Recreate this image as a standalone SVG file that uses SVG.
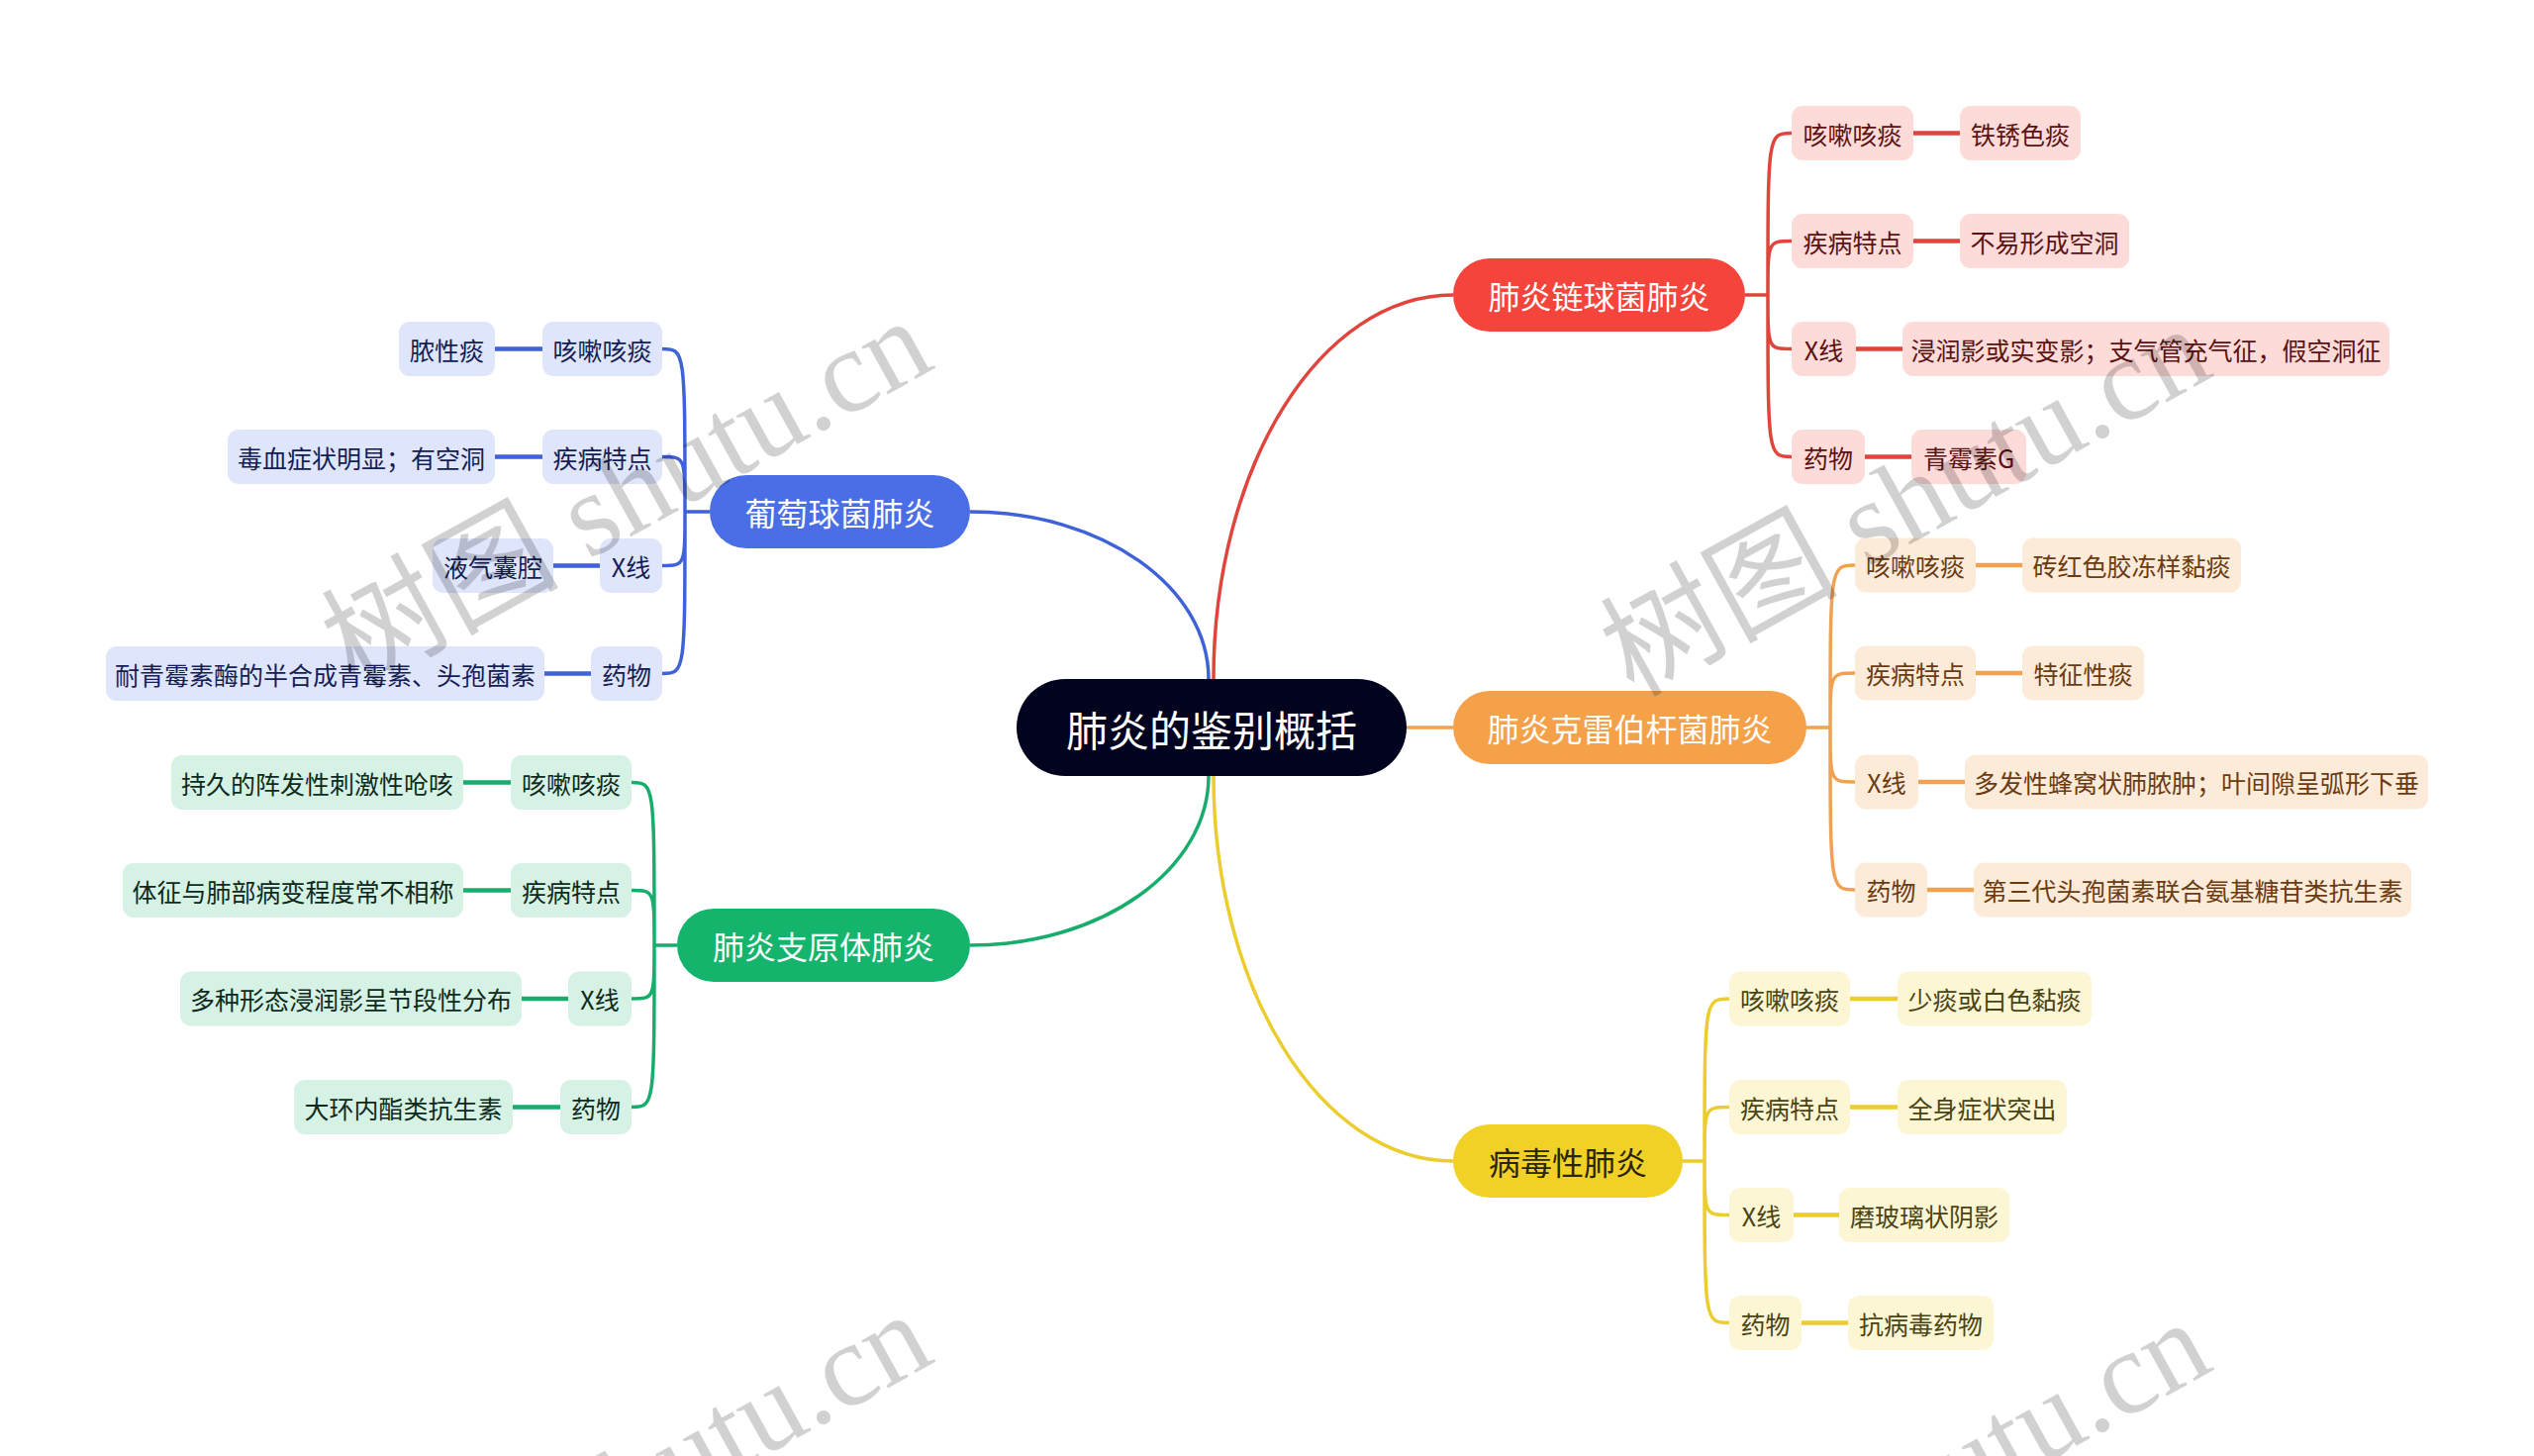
<svg xmlns="http://www.w3.org/2000/svg" width="2560" height="1471" viewBox="0 0 2560 1471">
<style>
text{font-family:"Noto Sans CJK SC","Noto Sans",sans-serif;text-anchor:middle;dominant-baseline:central}
.c text{font-size:25px}
.m text{font-size:32px;fill:#fff}
.root text{font-size:42px;fill:#fff}
.root rect{fill:#02041f}
.cr rect{fill:#fddbd9}.cr text{fill:#5b1212}
.co rect{fill:#fdebd9}.co text{fill:#6b3b12}
.cy rect{fill:#fdf6d5}.cy text{fill:#4a4413}
.cb rect{fill:#dfe5fb}.cb text{fill:#141d55}
.cg rect{fill:#d5f2e4}.cg text{fill:#0e2a1c}
.ln path{fill:none;stroke-width:3.5}
.ln path.g{stroke-width:4.5}
.sr{stroke:#e0453d}.so{stroke:#f0a252}.sy{stroke:#ebcd2f}.sb{stroke:#3f62d8}.sg{stroke:#17ad6c}
.wm text{font-family:"Liberation Serif","Noto Sans CJK SC",serif;font-size:120px;fill:#000;fill-opacity:.18;text-anchor:start;dominant-baseline:auto}
</style>
<g id="connectors" class="ln">
<path class="sr" d="M1226,686 C1226,471 1334,298 1468,298"/>
<path class="sy" d="M1226,784 C1226,999 1334,1173 1468,1173"/>
<path class="so" d="M1421,735 H1468"/>
<path class="sb" d="M1221,686 C1221,593 1114,517 980,517"/>
<path class="sg" d="M1221,784 C1221,878 1114,955 980,955"/>
<path class="sr" d="M1763,298 H1786 M1786,298 C1786,134.5 1786,134.5 1810,134.5 M1786,298 C1786,243.5 1786,243.5 1810,243.5 M1786,298 C1786,352.5 1786,352.5 1810,352.5 M1786,298 C1786,461.5 1786,461.5 1810,461.5"/>
<path class="sr g" d="M1933,134.5 H1980 M1933,243.5 H1980 M1875,352.5 H1922 M1884,461.5 H1931"/>
<path class="so" d="M1825,735 H1849 M1849,735 C1849,571 1849,571 1874,571 M1849,735 C1849,680 1849,680 1874,680 M1849,735 C1849,790 1849,790 1874,790 M1849,735 C1849,899 1849,899 1874,899"/>
<path class="so g" d="M1996,571 H2043 M1996,680 H2043 M1938,790 H1985 M1947,899 H1994"/>
<path class="sy" d="M1700,1173 H1722 M1722,1173 C1722,1009 1722,1009 1747,1009 M1722,1173 C1722,1118.5 1722,1118.5 1747,1118.5 M1722,1173 C1722,1227.5 1722,1227.5 1747,1227.5 M1722,1173 C1722,1336.5 1722,1336.5 1747,1336.5"/>
<path class="sy g" d="M1869,1009 H1917 M1869,1118.5 H1917 M1812,1227.5 H1858 M1820,1336.5 H1867"/>
<path class="sb" d="M717,517 H692 M692,517 C692,352.5 692,352.5 669,352.5 M692,517 C692,461.5 692,461.5 669,461.5 M692,517 C692,571.5 692,571.5 669,571.5 M692,517 C692,680.5 692,680.5 669,680.5"/>
<path class="sb g" d="M548,352.5 H500 M548,461.5 H500 M606,571.5 H559 M597,680.5 H550"/>
<path class="sg" d="M684,955 H661 M661,955 C661,790.5 661,790.5 638,790.5 M661,955 C661,899.5 661,899.5 638,899.5 M661,955 C661,1009 661,1009 638,1009 M661,955 C661,1118.5 661,1118.5 638,1118.5"/>
<path class="sg g" d="M516,790.5 H468 M516,899.5 H468 M574,1009 H527 M566,1118.5 H518"/>
</g>
<g id="root" class="root"><rect x="1027" y="686" width="394" height="98" rx="49"/><text x="1224" y="735">肺炎的鉴别概括</text></g>
<g id="n-red" class="m"><rect x="1468" y="261" width="295" height="74" rx="37" fill="#f5443c"/><text x="1615.5" y="298">肺炎链球菌肺炎</text></g>
<g id="n-orange" class="m"><rect x="1468" y="698" width="357" height="74" rx="37" fill="#f5a14a"/><text x="1646.5" y="735">肺炎克雷伯杆菌肺炎</text></g>
<g id="n-yellow" class="m"><rect x="1468" y="1136" width="232" height="74" rx="37" fill="#f2d126"/><text x="1584" y="1173" style="fill:#2a2508">病毒性肺炎</text></g>
<g id="n-blue" class="m"><rect x="717" y="480" width="263" height="74" rx="37" fill="#4a6ee6"/><text x="848.5" y="517">葡萄球菌肺炎</text></g>
<g id="n-green" class="m"><rect x="684" y="918" width="296" height="74" rx="37" fill="#14b46c"/><text x="832" y="955">肺炎支原体肺炎</text></g>

<g id="r1" class="c cr"><rect x="1810" y="107" width="123" height="55" rx="11"/><text x="1871.5" y="134.5">咳嗽咳痰</text></g>
<g id="r1a" class="c cr"><rect x="1980" y="107" width="122" height="55" rx="11"/><text x="2041" y="134.5">铁锈色痰</text></g>
<g id="r2" class="c cr"><rect x="1810" y="216" width="123" height="55" rx="11"/><text x="1871.5" y="243.5">疾病特点</text></g>
<g id="r2a" class="c cr"><rect x="1980" y="216" width="171" height="55" rx="11"/><text x="2065.5" y="243.5">不易形成空洞</text></g>
<g id="r3" class="c cr"><rect x="1810" y="325" width="65" height="55" rx="11"/><text x="1842.5" y="352.5">X线</text></g>
<g id="r3a" class="c cr"><rect x="1922" y="325" width="492" height="55" rx="11"/><text x="2168" y="352.5">浸润影或实变影；支气管充气征，假空洞征</text></g>
<g id="r4" class="c cr"><rect x="1810" y="434" width="74" height="55" rx="11"/><text x="1847" y="461.5">药物</text></g>
<g id="r4a" class="c cr"><rect x="1931" y="434" width="116" height="55" rx="11"/><text x="1989" y="461.5">青霉素G</text></g>

<g id="o1" class="c co"><rect x="1874" y="543.5" width="122" height="55" rx="11"/><text x="1935" y="571">咳嗽咳痰</text></g>
<g id="o1a" class="c co"><rect x="2043" y="543.5" width="221" height="55" rx="11"/><text x="2153.5" y="571">砖红色胶冻样黏痰</text></g>
<g id="o2" class="c co"><rect x="1874" y="652.5" width="122" height="55" rx="11"/><text x="1935" y="680">疾病特点</text></g>
<g id="o2a" class="c co"><rect x="2043" y="652.5" width="123" height="55" rx="11"/><text x="2104.5" y="680">特征性痰</text></g>
<g id="o3" class="c co"><rect x="1874" y="762.5" width="64" height="55" rx="11"/><text x="1906" y="790">X线</text></g>
<g id="o3a" class="c co"><rect x="1985" y="762.5" width="468" height="55" rx="11"/><text x="2219" y="790">多发性蜂窝状肺脓肿；叶间隙呈弧形下垂</text></g>
<g id="o4" class="c co"><rect x="1874" y="871.5" width="73" height="55" rx="11"/><text x="1910.5" y="899">药物</text></g>
<g id="o4a" class="c co"><rect x="1994" y="871.5" width="442" height="55" rx="11"/><text x="2215" y="899">第三代头孢菌素联合氨基糖苷类抗生素</text></g>

<g id="y1" class="c cy"><rect x="1747" y="981.5" width="122" height="55" rx="11"/><text x="1808" y="1009">咳嗽咳痰</text></g>
<g id="y1a" class="c cy"><rect x="1917" y="981.5" width="196" height="55" rx="11"/><text x="2015" y="1009">少痰或白色黏痰</text></g>
<g id="y2" class="c cy"><rect x="1747" y="1091" width="122" height="55" rx="11"/><text x="1808" y="1118.5">疾病特点</text></g>
<g id="y2a" class="c cy"><rect x="1917" y="1091" width="171" height="55" rx="11"/><text x="2002.5" y="1118.5">全身症状突出</text></g>
<g id="y3" class="c cy"><rect x="1747" y="1200" width="65" height="55" rx="11"/><text x="1779.5" y="1227.5">X线</text></g>
<g id="y3a" class="c cy"><rect x="1858" y="1200" width="172" height="55" rx="11"/><text x="1944" y="1227.5">磨玻璃状阴影</text></g>
<g id="y4" class="c cy"><rect x="1747" y="1309" width="73" height="55" rx="11"/><text x="1783.5" y="1336.5">药物</text></g>
<g id="y4a" class="c cy"><rect x="1867" y="1309" width="147" height="55" rx="11"/><text x="1940.5" y="1336.5">抗病毒药物</text></g>

<g id="b1" class="c cb"><rect x="548" y="325" width="121" height="55" rx="11"/><text x="608.5" y="352.5">咳嗽咳痰</text></g>
<g id="b1a" class="c cb"><rect x="403" y="325" width="97" height="55" rx="11"/><text x="451.5" y="352.5">脓性痰</text></g>
<g id="b2" class="c cb"><rect x="548" y="434" width="121" height="55" rx="11"/><text x="608.5" y="461.5">疾病特点</text></g>
<g id="b2a" class="c cb"><rect x="230" y="434" width="270" height="55" rx="11"/><text x="365" y="461.5">毒血症状明显；有空洞</text></g>
<g id="b3" class="c cb"><rect x="606" y="544" width="63" height="55" rx="11"/><text x="637.5" y="571.5">X线</text></g>
<g id="b3a" class="c cb"><rect x="437" y="544" width="122" height="55" rx="11"/><text x="498" y="571.5">液气囊腔</text></g>
<g id="b4" class="c cb"><rect x="597" y="653" width="72" height="55" rx="11"/><text x="633" y="680.5">药物</text></g>
<g id="b4a" class="c cb"><rect x="107" y="653" width="443" height="55" rx="11"/><text x="328.5" y="680.5">耐青霉素酶的半合成青霉素、头孢菌素</text></g>

<g id="g1" class="c cg"><rect x="516" y="763" width="122" height="55" rx="11"/><text x="577" y="790.5">咳嗽咳痰</text></g>
<g id="g1a" class="c cg"><rect x="173" y="763" width="295" height="55" rx="11"/><text x="320.5" y="790.5">持久的阵发性刺激性呛咳</text></g>
<g id="g2" class="c cg"><rect x="516" y="872" width="122" height="55" rx="11"/><text x="577" y="899.5">疾病特点</text></g>
<g id="g2a" class="c cg"><rect x="124" y="872" width="344" height="55" rx="11"/><text x="296" y="899.5">体征与肺部病变程度常不相称</text></g>
<g id="g3" class="c cg"><rect x="574" y="981.5" width="64" height="55" rx="11"/><text x="606" y="1009">X线</text></g>
<g id="g3a" class="c cg"><rect x="182" y="981.5" width="345" height="55" rx="11"/><text x="354.5" y="1009">多种形态浸润影呈节段性分布</text></g>
<g id="g4" class="c cg"><rect x="566" y="1091" width="72" height="55" rx="11"/><text x="602" y="1118.5">药物</text></g>
<g id="g4a" class="c cg"><rect x="297" y="1091" width="221" height="55" rx="11"/><text x="407.5" y="1118.5">大环内酯类抗生素</text></g>

<g id="watermark" class="wm">
<text x="358" y="697" transform="rotate(-29 358 697)">树图 shutu.cn</text>
<text x="1650" y="705" transform="rotate(-29 1650 705)">树图 shutu.cn</text>
<text x="358" y="1701" transform="rotate(-29 358 1701)">树图 shutu.cn</text>
<text x="1650" y="1709" transform="rotate(-29 1650 1709)">树图 shutu.cn</text>
</g>
</svg>
